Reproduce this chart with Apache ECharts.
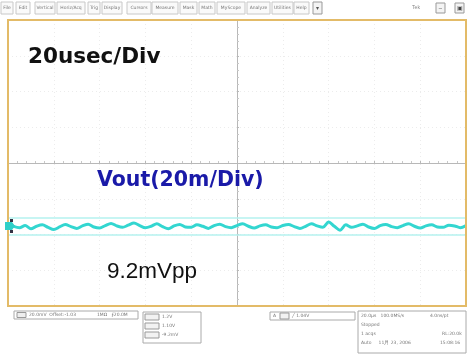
<!DOCTYPE html>
<html>
<head>
<meta charset="utf-8">
<script src="https://cdn.jsdelivr.net/npm/echarts@6/dist/echarts.min.js"></script>
<style>
  html, body { margin: 0; padding: 0; background: #fff; }
  #chart { width: 470px; height: 354px; }
</style>
</head>
<body>
<div id="chart"></div>
<script>
// time in usec relative to trigger point, 20 usec / div, 10 divs
const timeTicks = [-100, -80, -60, -40, -20, 0, 20, 40, 60, 80, 100];
// Vout ripple in mV (20 mV / div, 8 divs)
const voutRipple = [
  -34.0, -35.5, -36.2, -35.0, -36.8, -35.4, -34.6, -36.0, -37.2, -35.8,
  -34.4, -35.6, -36.6, -35.2, -34.2, -35.8, -36.4, -35.0, -33.8, -35.2,
  -36.0, -34.8, -33.6, -35.0, -36.2, -35.4, -34.0, -35.6, -36.8, -35.2,
  -34.4, -35.8, -36.0, -34.6, -35.4, -36.6, -35.0, -34.2, -35.6, -36.2,
  -35.0, -34.0, -35.4, -36.4, -35.2, -34.6, -35.8, -36.2, -35.0, -34.4,
  -35.6, -36.6, -35.4, -34.0, -35.2, -36.0, -33.0, -35.4, -37.6, -34.6,
  -36.0, -35.2, -34.2, -35.8, -36.6, -35.0, -34.4, -35.6, -36.2, -35.0,
  -34.0, -35.4, -36.4, -35.2, -34.6, -35.8, -36.0, -34.8, -35.2, -36.2, -35.0
];
const menuTabs = ['File', 'Edit', 'Vertical', 'Horiz/Acq', 'Trig', 'Display', 'Cursors',
  'Measure', 'Mask', 'Math', 'MyScope', 'Analyze', 'Utilities', 'Help'];
const menuX = [1, 16, 35, 57, 88, 102, 127, 152, 180, 199, 217, 247, 272, 294];
const menuW = [12, 14, 20, 28, 12, 20, 24, 26, 17, 16, 28, 23, 21, 15];

const points = voutRipple.map((v, i) => [-100 + i * 2.5, v]);

const chart = echarts.init(document.getElementById('chart'), null, { renderer: 'canvas' });

const graphics = [];
// top menu bar
menuTabs.forEach((t, i) => {
  graphics.push({
    type: 'rect', shape: { x: menuX[i], y: 2, width: menuW[i], height: 12 },
    style: { fill: '#fafafa', stroke: '#c8c8c8', lineWidth: 1 }
  });
  graphics.push({
    type: 'text', x: menuX[i] + menuW[i] / 2, y: 8,
    style: { text: t, fontSize: 4.5, fill: '#777', align: 'center', verticalAlign: 'middle', fontFamily: 'DejaVu Sans' }
  });
});
graphics.push(
  { type: 'rect', shape: { x: 313, y: 2, width: 9, height: 12 }, style: { fill: '#f4f4f4', stroke: '#999' } },
  { type: 'text', x: 317.5, y: 8, style: { text: '▾', fontSize: 6, fill: '#555', align: 'center', verticalAlign: 'middle' } },
  { type: 'text', x: 416, y: 8, style: { text: 'Tek', fontSize: 5, fill: '#888', align: 'center', verticalAlign: 'middle' } },
  { type: 'rect', shape: { x: 436, y: 3, width: 9, height: 10 }, style: { fill: '#f4f4f4', stroke: '#999' } },
  { type: 'text', x: 440.5, y: 8, style: { text: '–', fontSize: 6, fill: '#444', align: 'center', verticalAlign: 'middle' } },
  { type: 'rect', shape: { x: 455, y: 3, width: 9, height: 10 }, style: { fill: '#f4f4f4', stroke: '#999' } },
  { type: 'text', x: 459.5, y: 8, style: { text: '▣', fontSize: 6, fill: '#444', align: 'center', verticalAlign: 'middle' } }
);
// graticule frame
graphics.push(
  { type: 'rect', z: 9, shape: { x: 8, y: 20, width: 458, height: 286 }, style: { fill: 'none', stroke: '#e3bb68', lineWidth: 2 } }
);
// annotations on the screen
graphics.push(
  { type: 'text', x: 28, y: 57, z: 10, style: { text: '20usec/Div', fontSize: 21.5, fontWeight: 'bold', fill: '#111', verticalAlign: 'middle', fontFamily: 'DejaVu Sans' } },
  { type: 'text', x: 97, y: 181, z: 10, style: { text: 'Vout(20m/Div)', fontSize: 20.5, fontWeight: 'bold', fill: '#1a1aa8', verticalAlign: 'middle', fontFamily: 'DejaVu Sans' } },
  { type: 'text', x: 107, y: 272, z: 10, style: { text: '9.2mVpp', fontSize: 22.5, fill: '#111', verticalAlign: 'middle', fontFamily: 'Liberation Sans' } }
);
// channel marker
graphics.push(
  { type: 'polygon', z: 10, shape: { points: [[5, 222], [12, 222], [15, 226], [12, 230], [5, 230]] }, style: { fill: '#2fcfc8' } },
  { type: 'rect', z: 11, shape: { x: 10, y: 219, width: 3, height: 3 }, style: { fill: '#334' } },
  { type: 'rect', z: 11, shape: { x: 10, y: 230, width: 3, height: 3 }, style: { fill: '#334' } }
);
// bottom status boxes
const small = (x, y, t, extra) => ({ type: 'text', x, y, style: Object.assign({ text: t, fontSize: 4.5, fill: '#777', verticalAlign: 'middle', fontFamily: 'DejaVu Sans' }, extra || {}) });
graphics.push(
  { type: 'rect', shape: { x: 14, y: 311, width: 124, height: 8 }, style: { fill: '#fff', stroke: '#aaa' } },
  { type: 'rect', shape: { x: 17, y: 312.5, width: 9, height: 5 }, style: { fill: '#eee', stroke: '#999' } },
  small(29, 315, '20.0mV  Offset:-1.03'), small(97, 315, '1M\u03a9   \u2a0e20.0M'),
  { type: 'rect', shape: { x: 143, y: 312, width: 58, height: 31 }, style: { fill: '#fff', stroke: '#aaa' } },
  { type: 'rect', shape: { x: 145, y: 314, width: 14, height: 6 }, style: { fill: '#f2f2f2', stroke: '#999' } },
  { type: 'rect', shape: { x: 145, y: 323, width: 14, height: 6 }, style: { fill: '#f2f2f2', stroke: '#999' } },
  { type: 'rect', shape: { x: 145, y: 332, width: 14, height: 6 }, style: { fill: '#f2f2f2', stroke: '#999' } },
  small(162, 317, '1.2V'), small(162, 326, '1.10V'), small(162, 335, '-9.2mV'),
  { type: 'rect', shape: { x: 270, y: 312, width: 85, height: 8 }, style: { fill: '#fff', stroke: '#aaa' } },
  small(273, 316, 'A'), { type: 'rect', shape: { x: 280, y: 313, width: 9, height: 6 }, style: { fill: '#f2f2f2', stroke: '#999' } },
  small(292, 316, '\u2571 1.04V'),
  { type: 'rect', shape: { x: 358, y: 311, width: 108, height: 42 }, style: { fill: '#fff', stroke: '#aaa' } },
  small(361, 316, '20.0\u00b5s   100.0MS/s'), small(430, 316, '4.0ns/pt'),
  small(361, 325, 'Stopped'),
  small(361, 334, '1 acqs'), small(442, 334, 'RL:20.0k'),
  small(361, 343, 'Auto     11\u6708 23, 2006'), small(440, 343, '15:08:16')
);

chart.setOption({
  animation: false,
  backgroundColor: '#ffffff',
  grid: {
    left: 8, top: 20, width: 458, height: 286,
    show: false
  },
  xAxis: {
    type: 'value', min: -100, max: 100, interval: 20,
    axisLine: { onZero: true, lineStyle: { color: '#b8b8b8', width: 1 } },
    axisTick: { show: true, inside: true, length: 2, lineStyle: { color: '#b8b8b8' } },
    minorTick: { show: true, splitNumber: 5, length: 2, lineStyle: { color: '#c8c8c8' } },
    axisLabel: { show: false },
    splitLine: { show: true, lineStyle: { color: '#ececec', type: [1, 3] } }
  },
  yAxis: {
    type: 'value', min: -80, max: 80, interval: 20,
    axisLine: { onZero: true, lineStyle: { color: '#b8b8b8', width: 1 } },
    axisTick: { show: true, inside: true, length: 2, lineStyle: { color: '#b8b8b8' } },
    minorTick: { show: true, splitNumber: 5, length: 2, lineStyle: { color: '#c8c8c8' } },
    axisLabel: { show: false },
    splitLine: { show: true, lineStyle: { color: '#ececec', type: [1, 3] } }
  },
  series: [{
    type: 'line',
    data: points,
    symbol: 'none',
    smooth: 0.3,
    lineStyle: { color: '#33d6d0', width: 3 },
    markLine: {
      silent: true, symbol: 'none', label: { show: false },
      lineStyle: { color: '#b4f2ef', width: 1.5, type: 'solid' },
      data: [{ yAxis: -30.5 }, { yAxis: -40.2 }]
    }
  }],
  graphic: graphics
});
</script>
</body>
</html>
